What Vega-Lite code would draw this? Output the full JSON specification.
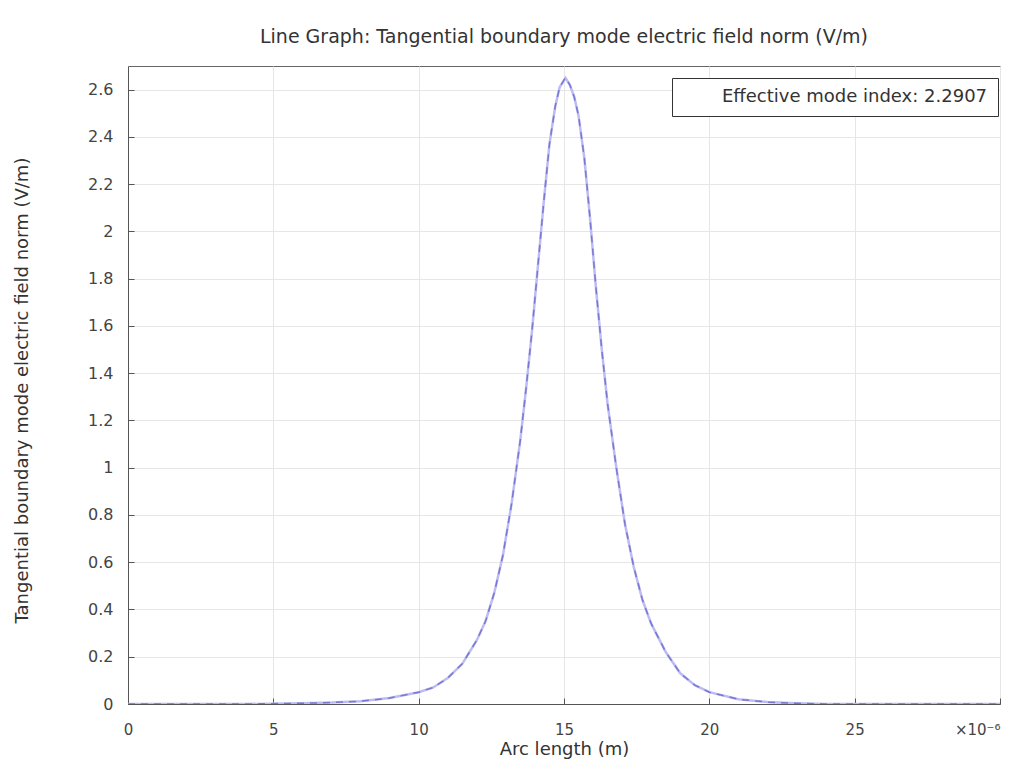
{
  "$schema": "https://vega.github.io/schema/vega-lite/v6.json",
  "autosize": "none",
  "width": 872,
  "height": 638,
  "padding": {"left": 128, "top": 66, "right": 31, "bottom": 74},
  "background": "white",
  "config": {
    "font": "DejaVu Sans",
    "view": {"stroke": "#666", "strokeWidth": 1},
    "axis": {
      "labelFont": "DejaVu Sans",
      "titleFont": "DejaVu Sans",
      "labelFontSize": 16,
      "titleFontSize": 18,
      "labelColor": "#444",
      "titleColor": "#333",
      "titleFontWeight": "normal",
      "gridColor": "#e6e6e6",
      "domainColor": "#555",
      "tickColor": "#555"
    }
  },
  "title": {
    "text": "Line Graph: Tangential boundary mode electric field norm (V/m)",
    "fontSize": 19,
    "fontWeight": "normal",
    "color": "#333",
    "font": "DejaVu Sans",
    "offset": 19
  },
  "data": {
    "values": [
      {"x": 0, "y": 0, "series": "Effective mode index: 2.2907"},
      {"x": 2, "y": 0, "series": "Effective mode index: 2.2907"},
      {"x": 4, "y": 0, "series": "Effective mode index: 2.2907"},
      {"x": 6, "y": 0.003, "series": "Effective mode index: 2.2907"},
      {"x": 7, "y": 0.006, "series": "Effective mode index: 2.2907"},
      {"x": 8, "y": 0.012, "series": "Effective mode index: 2.2907"},
      {"x": 9, "y": 0.025, "series": "Effective mode index: 2.2907"},
      {"x": 10, "y": 0.05, "series": "Effective mode index: 2.2907"},
      {"x": 10.5, "y": 0.07, "series": "Effective mode index: 2.2907"},
      {"x": 11, "y": 0.11, "series": "Effective mode index: 2.2907"},
      {"x": 11.5, "y": 0.17, "series": "Effective mode index: 2.2907"},
      {"x": 12, "y": 0.27, "series": "Effective mode index: 2.2907"},
      {"x": 12.3, "y": 0.35, "series": "Effective mode index: 2.2907"},
      {"x": 12.6, "y": 0.47, "series": "Effective mode index: 2.2907"},
      {"x": 12.9, "y": 0.63, "series": "Effective mode index: 2.2907"},
      {"x": 13.2, "y": 0.85, "series": "Effective mode index: 2.2907"},
      {"x": 13.5, "y": 1.12, "series": "Effective mode index: 2.2907"},
      {"x": 13.7, "y": 1.34, "series": "Effective mode index: 2.2907"},
      {"x": 13.9, "y": 1.58, "series": "Effective mode index: 2.2907"},
      {"x": 14.1, "y": 1.85, "series": "Effective mode index: 2.2907"},
      {"x": 14.3, "y": 2.12, "series": "Effective mode index: 2.2907"},
      {"x": 14.5, "y": 2.37, "series": "Effective mode index: 2.2907"},
      {"x": 14.7, "y": 2.53, "series": "Effective mode index: 2.2907"},
      {"x": 14.85, "y": 2.61, "series": "Effective mode index: 2.2907"},
      {"x": 15.05, "y": 2.65, "series": "Effective mode index: 2.2907"},
      {"x": 15.2, "y": 2.62, "series": "Effective mode index: 2.2907"},
      {"x": 15.35, "y": 2.57, "series": "Effective mode index: 2.2907"},
      {"x": 15.5, "y": 2.49, "series": "Effective mode index: 2.2907"},
      {"x": 15.7, "y": 2.31, "series": "Effective mode index: 2.2907"},
      {"x": 15.9, "y": 2.05, "series": "Effective mode index: 2.2907"},
      {"x": 16.1, "y": 1.76, "series": "Effective mode index: 2.2907"},
      {"x": 16.3, "y": 1.5, "series": "Effective mode index: 2.2907"},
      {"x": 16.5, "y": 1.27, "series": "Effective mode index: 2.2907"},
      {"x": 16.8, "y": 1.0, "series": "Effective mode index: 2.2907"},
      {"x": 17.1, "y": 0.76, "series": "Effective mode index: 2.2907"},
      {"x": 17.4, "y": 0.58, "series": "Effective mode index: 2.2907"},
      {"x": 17.7, "y": 0.44, "series": "Effective mode index: 2.2907"},
      {"x": 18.0, "y": 0.34, "series": "Effective mode index: 2.2907"},
      {"x": 18.5, "y": 0.22, "series": "Effective mode index: 2.2907"},
      {"x": 19.0, "y": 0.13, "series": "Effective mode index: 2.2907"},
      {"x": 19.5, "y": 0.08, "series": "Effective mode index: 2.2907"},
      {"x": 20, "y": 0.05, "series": "Effective mode index: 2.2907"},
      {"x": 21, "y": 0.02, "series": "Effective mode index: 2.2907"},
      {"x": 22, "y": 0.008, "series": "Effective mode index: 2.2907"},
      {"x": 23, "y": 0.003, "series": "Effective mode index: 2.2907"},
      {"x": 24, "y": 0, "series": "Effective mode index: 2.2907"},
      {"x": 26, "y": 0, "series": "Effective mode index: 2.2907"},
      {"x": 28, "y": 0, "series": "Effective mode index: 2.2907"},
      {"x": 30, "y": 0, "series": "Effective mode index: 2.2907"}
    ]
  },
  "layer": [
    {
      "mark": {"type": "line", "strokeWidth": 2.5, "clip": true},
      "encoding": {
        "x": {
          "field": "x",
          "type": "quantitative",
          "scale": {"domain": [0, 30], "nice": false},
          "axis": {
            "title": "Arc length (m)",
            "values": [0, 5, 10, 15, 20, 25, 30],
            "labelExpr": "datum.value == 30 ? '×10⁻⁶' : datum.label",
            "labelAlign": {"condition": {"test": "datum.value == 30", "value": "right"}, "value": "center"},
            "labelFontSize": 15,
            "tickSize": -6,
            "labelPadding": 24,
            "titlePadding": 3,
            "labelFlush": false
          }
        },
        "y": {
          "field": "y",
          "type": "quantitative",
          "scale": {"domain": [0, 2.7], "nice": false},
          "axis": {
            "title": "Tangential boundary mode electric field norm (V/m)",
            "values": [0, 0.2, 0.4, 0.6, 0.8, 1, 1.2, 1.4, 1.6, 1.8, 2, 2.2, 2.4, 2.6],
            "format": ".1~f",
            "tickSize": -6,
            "labelPadding": 21,
            "titleAngle": -90,
            "titleX": -106,
            "titleY": 324,
            "titleAlign": "center",
            "titleBaseline": "middle"
          }
        },
        "color": {
          "field": "series",
          "type": "nominal",
          "scale": {"range": ["#bcbcf0"]},
          "legend": {
            "title": null,
            "orient": "none",
            "legendX": 544,
            "legendY": 12,
            "strokeColor": "#333",
            "fillColor": "white",
            "padding": 10,
            "labelFontSize": 18,
            "labelColor": "#333",
            "labelFont": "DejaVu Sans",
            "symbolType": "stroke",
            "symbolStrokeWidth": 2,
            "symbolOpacity": 0,
            "labelOffset": 22,
            "labelLimit": 400
          }
        }
      }
    },
    {
      "mark": {"type": "line", "strokeWidth": 1.5, "strokeDash": [7, 6], "color": "#7878d4", "clip": true},
      "encoding": {
        "x": {"field": "x", "type": "quantitative"},
        "y": {"field": "y", "type": "quantitative"}
      }
    }
  ]
}
